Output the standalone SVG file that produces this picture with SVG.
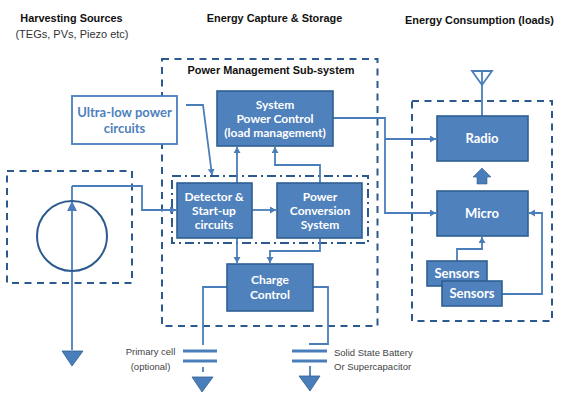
<svg xmlns="http://www.w3.org/2000/svg" width="561" height="403" viewBox="0 0 561 403">
<defs>
<marker id="a" markerUnits="userSpaceOnUse" markerWidth="8" markerHeight="8" refX="6" refY="3.5" orient="auto"><path d="M0 0L6 3.500L0 7Z" fill="#4a7ebb"/></marker>
</defs>
<style>
.box{fill:#4f81bd;stroke:#2f5f93;stroke-width:1.600}
.dash{fill:none;stroke:#2c5a8f;stroke-width:2;stroke-dasharray:7 5.500}
.dd{fill:none;stroke:#2c5a8f;stroke-width:2;stroke-dasharray:9 4 2 4}
.c{fill:none;stroke:#4a7ebb;stroke-width:1.800}
.ca{fill:none;stroke:#4a7ebb;stroke-width:1.800;marker-end:url(#a)}
.plate{stroke:#4a7ebb;stroke-width:3}
.tri{fill:#4a7ebb;stroke:#2f5f93;stroke-width:.8}
.w{font:bold 12px Lato,"Noto Sans",sans-serif;fill:#fff;text-anchor:middle}
.u{font:bold 13px Lato,"Noto Sans",sans-serif;fill:#4f81bd;text-anchor:middle}
.h{font:bold 10.900px "Liberation Sans",sans-serif;fill:#111;text-anchor:middle}
.n{font:11px "Liberation Sans",sans-serif;fill:#333;text-anchor:middle}
.g{font:9.500px "Liberation Sans",sans-serif;fill:#444}
</style>
<rect width="561" height="403" fill="#fff"/>
<text class="h" x="71.500" y="22">Harvesting Sources</text>
<text class="n" x="72" y="38">(TEGs, PVs, Piezo etc)</text>
<text class="h" x="274.500" y="22">Energy Capture &amp; Storage</text>
<text class="h" x="479.500" y="24">Energy Consumption (loads)</text>
<text class="h" x="271" y="74">Power Management Sub-system</text>
<g id="frames">
<rect class="dash" x="162" y="59" width="215.500" height="267"/>
<rect class="dash" x="7" y="171" width="125" height="112"/>
<rect class="dash" x="412" y="101" width="140" height="220"/>
<rect class="dd" x="172" y="176" width="196" height="67"/>
</g>
<g id="connectors">
<path class="ca" d="M186 105H203L212 175"/>
<path class="ca" d="M237 183V147"/>
<path class="ca" d="M320 183V165H275V147"/>
<path class="ca" d="M252 210H276"/>
<path class="ca" d="M237 238V263"/>
<path class="ca" d="M320 238V251H270V263"/>
<path class="ca" d="M72 186H142V210H176"/>
<path class="c" d="M72 186V350"/>
<path class="ca" d="M333 118H385V213H436"/>
<path class="ca" d="M385 139H436"/>
<path class="ca" d="M457 261V249H482V237"/>
<path class="ca" d="M502 294H542V213H529"/>
<path class="c" d="M482 71V116"/>
<path class="c" d="M227 287H203V345"/>
<path class="c" d="M203 367V372"/>
<path class="c" d="M313 287H328V344H309"/>
<path class="c" d="M310 366V376"/>
</g>
<g id="source"><circle cx="72" cy="236" r="35" fill="none" stroke="#2c5a8f" stroke-width="2"/><path d="M72 201L77 211H67Z" fill="#4a7ebb"/><path class="tri" d="M62 351H83L72 366Z"/></g>
<g id="ultra-low"><rect x="72" y="96" width="105" height="48" fill="#fff" stroke="#4a7ebb" stroke-width="1.800"/><text class="u" x="124.500" y="117">Ultra-low power</text><text class="u" x="124.500" y="133">circuits</text></g>
<g id="system"><rect class="box" x="217" y="91" width="116" height="55"/><text class="w" x="275" y="109">System</text><text class="w" x="275" y="123">Power Control</text><text class="w" x="275" y="137">(load management)</text></g>
<g id="detector"><rect class="box" x="177" y="183" width="75" height="55"/><text class="w" x="214" y="201">Detector &amp;</text><text class="w" x="214" y="215">Start-up</text><text class="w" x="214" y="229">circuits</text></g>
<g id="power"><rect class="box" x="277" y="183" width="85" height="55"/><text class="w" x="320" y="201">Power</text><text class="w" x="320" y="215">Conversion</text><text class="w" x="320" y="229">System</text></g>
<g id="charge"><rect class="box" x="227" y="264" width="86" height="47"/><text class="w" x="270" y="284">Charge</text><text class="w" x="270" y="299">Control</text></g>
<g id="radio"><rect class="box" x="437" y="116" width="91" height="45"/><text class="w" x="482" y="143" style="font-size:13px">Radio</text><path d="M482 168L491 177H487V184H477V177H473Z" fill="#4a7ebb" stroke="#2f5f93" stroke-width=".6"/><path d="M472 71H492L482 85Z" fill="none" stroke="#4a7ebb" stroke-width="1.800"/></g>
<g id="micro"><rect class="box" x="437" y="191" width="91" height="45"/><text class="w" x="482" y="218" style="font-size:13px">Micro</text></g>
<g id="sensors1"><rect class="box" x="427" y="261" width="60" height="25"/><text class="w" x="457" y="278" style="font-size:13px">Sensors</text></g>
<g id="sensors2"><rect class="box" x="442" y="281" width="60" height="25"/><text class="w" x="472" y="298" style="font-size:13px">Sensors</text></g>
<g id="primary-cell"><path class="plate" d="M183 351H217M183 361H217"/><path class="tri" d="M192 377H213L202 392Z"/><text class="g" x="150.500" y="355" text-anchor="middle">Primary cell</text><text class="g" x="150.500" y="370" text-anchor="middle">(optional)</text></g>
<g id="battery"><path class="plate" d="M292 351H327M292 361H327"/><path class="tri" d="M299 376H320L310 391Z"/><text class="g" x="334" y="356">Solid State Battery</text><text class="g" x="334" y="370">Or Supercapacitor</text></g>
</svg>
